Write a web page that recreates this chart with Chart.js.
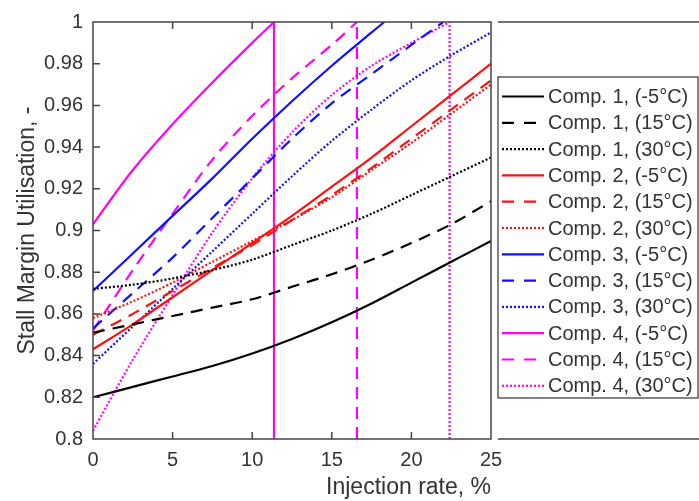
<!DOCTYPE html>
<html>
<head>
<meta charset="utf-8">
<script src="https://cdn.jsdelivr.net/npm/chart.js@4"></script>
<style>
  body { margin: 0; background: #fff; }
</style>
</head>
<body>
<canvas id="chart" width="699" height="501"></canvas>
<script>
var FONT = 'Arial, "Liberation Sans", sans-serif';

// injection rate, %
var xFull = [0, 2.5, 5, 7.5, 10, 12.5, 15, 17.5, 20, 22.5, 25];

// Comp. 1
var comp1Cold = [0.820, 0.825, 0.830, 0.835, 0.841, 0.848, 0.856, 0.865, 0.875, 0.885, 0.895];
var comp1Mid  = [0.851, 0.855, 0.859, 0.863, 0.867, 0.873, 0.879, 0.886, 0.894, 0.903, 0.914];
var comp1Hot  = [0.872, 0.874, 0.877, 0.881, 0.886, 0.893, 0.900, 0.908, 0.917, 0.926, 0.935];

// Comp. 2
var comp2Cold = [0.843, 0.855, 0.868, 0.881, 0.894, 0.907, 0.921, 0.935, 0.950, 0.965, 0.980];
var comp2Mid  = [0.850, 0.860, 0.871, 0.882, 0.893, 0.905, 0.917, 0.930, 0.944, 0.958, 0.972];
var comp2Hot  = [0.858, 0.866, 0.875, 0.885, 0.895, 0.905, 0.916, 0.929, 0.942, 0.956, 0.970];

// Comp. 3
var comp3ColdX = [0, 2.5, 5, 7.5, 10, 12.5, 15, 17.5, 18.3];
var comp3Cold  = [0.871, 0.889, 0.907, 0.925, 0.944, 0.962, 0.979, 0.995, 1.0];
var comp3MidX  = [0, 2.5, 5, 7.5, 10, 12.5, 15, 17.5, 20, 22];
var comp3Mid   = [0.853, 0.870, 0.887, 0.906, 0.925, 0.944, 0.961, 0.975, 0.989, 1.0];
var comp3Hot   = [0.836, 0.854, 0.872, 0.890, 0.908, 0.926, 0.943, 0.958, 0.972, 0.984, 0.995];

// Comp. 4
var comp4ColdX = [0, 2.5, 5, 7.5, 10, 11.37];
var comp4Cold  = [0.903, 0.929, 0.951, 0.971, 0.990, 1.0];
var comp4MidX  = [0, 2.5, 5, 7.5, 10, 12.5, 15, 16.58];
var comp4Mid   = [0.852, 0.881, 0.908, 0.934, 0.955, 0.973, 0.989, 1.0];
var comp4HotX  = [0, 2.5, 5, 7.5, 10, 12.5, 15, 17.5, 20, 22.4];
var comp4Hot   = [0.804, 0.838, 0.869, 0.899, 0.925, 0.947, 0.965, 0.979, 0.990, 1.0];

// injection limits of Comp. 4 (vertical lines)
var limitX = [11.37, 16.58, 22.4];

var temps = ['(-5\u00B0C)', '(15\u00B0C)', '(30\u00B0C)'];
var colors = ['#000000', '#ff1010', '#1010ff', '#ff00ff'];
var dashes = [[], [12, 8], [2, 2]];

function pts(xs, ys) {
  return ys.map(function(v, i) { return { x: xs[i], y: v }; });
}

function series(comp, t, xs, ys) {
  return {
    label: 'Comp. ' + comp + ', ' + temps[t],
    data: pts(xs, ys),
    borderColor: colors[comp - 1],
    borderDash: dashes[t],
    borderWidth: 2.2,
    pointRadius: 0,
    fill: false,
    tension: 0.3
  };
}

function limitLine(x, t) {
  return {
    label: '',
    data: [{ x: x, y: 0.8 }, { x: x, y: 1 }],
    borderColor: colors[3],
    borderDash: dashes[t],
    borderWidth: 2.2,
    pointRadius: 0,
    fill: false
  };
}

var datasets = [
  series(1, 0, xFull, comp1Cold),
  series(1, 1, xFull, comp1Mid),
  series(1, 2, xFull, comp1Hot),
  series(2, 0, xFull, comp2Cold),
  series(2, 1, xFull, comp2Mid),
  series(2, 2, xFull, comp2Hot),
  series(3, 0, comp3ColdX, comp3Cold),
  series(3, 1, comp3MidX, comp3Mid),
  series(3, 2, xFull, comp3Hot),
  series(4, 0, comp4ColdX, comp4Cold),
  series(4, 1, comp4MidX, comp4Mid),
  series(4, 2, comp4HotX, comp4Hot),
  limitLine(limitX[0], 0),
  limitLine(limitX[1], 1),
  limitLine(limitX[2], 2)
];

// box, inner ticks, the cut-off neighbour axes and the legend
var framePlugin = {
  id: 'frame',
  afterDraw: function(chart) {
    var ctx = chart.ctx, a = chart.chartArea;
    var sx = chart.scales.x, sy = chart.scales.y;
    ctx.save();
    ctx.strokeStyle = '#444';
    ctx.lineWidth = 1.5;
    ctx.setLineDash([]);
    ctx.strokeRect(a.left, a.top, a.right - a.left, a.bottom - a.top);

    ctx.beginPath();
    sx.ticks.forEach(function(t) {
      var px = sx.getPixelForValue(t.value);
      if (px <= a.left + 1 || px >= a.right - 1) return;
      ctx.moveTo(px, a.bottom); ctx.lineTo(px, a.bottom - 7);
      ctx.moveTo(px, a.top); ctx.lineTo(px, a.top + 7);
    });
    sy.ticks.forEach(function(t) {
      var py = sy.getPixelForValue(t.value);
      if (py <= a.top + 1 || py >= a.bottom - 1) return;
      ctx.moveTo(a.left, py); ctx.lineTo(a.left + 7, py);
    });
    ctx.stroke();

    // second axes, only its top and bottom edges show
    ctx.beginPath();
    ctx.moveTo(498, a.top); ctx.lineTo(699, a.top);
    ctx.moveTo(498, a.bottom); ctx.lineTo(699, a.bottom);
    ctx.stroke();

    // legend
    var lx = 498, ly = 77, lw = 200, lh = 321;
    ctx.fillStyle = '#fff';
    ctx.fillRect(lx, ly, lw, lh);
    ctx.lineWidth = 1.2;
    ctx.strokeStyle = '#333';
    ctx.strokeRect(lx, ly, lw, lh);
    ctx.font = '20px ' + FONT;
    ctx.textBaseline = 'middle';
    ctx.textAlign = 'left';
    var items = chart.data.datasets.filter(function(d) { return d.label; });
    items.forEach(function(d, i) {
      var cy = 96.5 + i * 26.3;
      ctx.strokeStyle = d.borderColor;
      ctx.lineWidth = 2.2;
      ctx.setLineDash(d.borderDash.length === 2 && d.borderDash[0] > 4 ? [12, 10] : d.borderDash);
      ctx.beginPath();
      ctx.moveTo(502, cy); ctx.lineTo(544, cy);
      ctx.stroke();
      ctx.fillStyle = '#333';
      ctx.fillText(d.label, 548, cy + 1);
    });
    ctx.restore();
  }
};

new Chart(document.getElementById('chart'), {
  type: 'line',
  data: { datasets: datasets },
  options: {
    responsive: false,
    animation: false,
    layout: { padding: { top: 18, right: 208, left: 0, bottom: 0 } },
    plugins: {
      legend: { display: false },
      tooltip: { enabled: false }
    },
    scales: {
      x: {
        type: 'linear',
        min: 0,
        max: 25,
        ticks: { stepSize: 5, padding: 9, color: '#333', font: { size: 20, family: FONT } },
        grid: { display: false, drawTicks: false, tickLength: 0 },
        border: { display: false },
        title: {
          display: true,
          text: 'Injection rate, %',
          align: 'end',
          color: '#333',
          font: { size: 23, family: FONT },
          padding: { top: 0, bottom: 0 }
        },
        afterFit: function(s) { s.height = 62; }
      },
      y: {
        type: 'linear',
        min: 0.8,
        max: 1,
        ticks: {
          stepSize: 0.02,
          padding: 10,
          color: '#333',
          font: { size: 20, family: FONT },
          callback: function(v) { return String(Number(v.toFixed(2))); }
        },
        grid: { display: false, drawTicks: false, tickLength: 0 },
        border: { display: false },
        title: {
          display: true,
          text: 'Stall Margin Utilisation, -',
          color: '#333',
          font: { size: 23, family: FONT },
          padding: { top: 14, bottom: 0 }
        },
        afterFit: function(s) { s.width = 93; }
      }
    }
  },
  plugins: [framePlugin]
});
</script>
</body>
</html>
